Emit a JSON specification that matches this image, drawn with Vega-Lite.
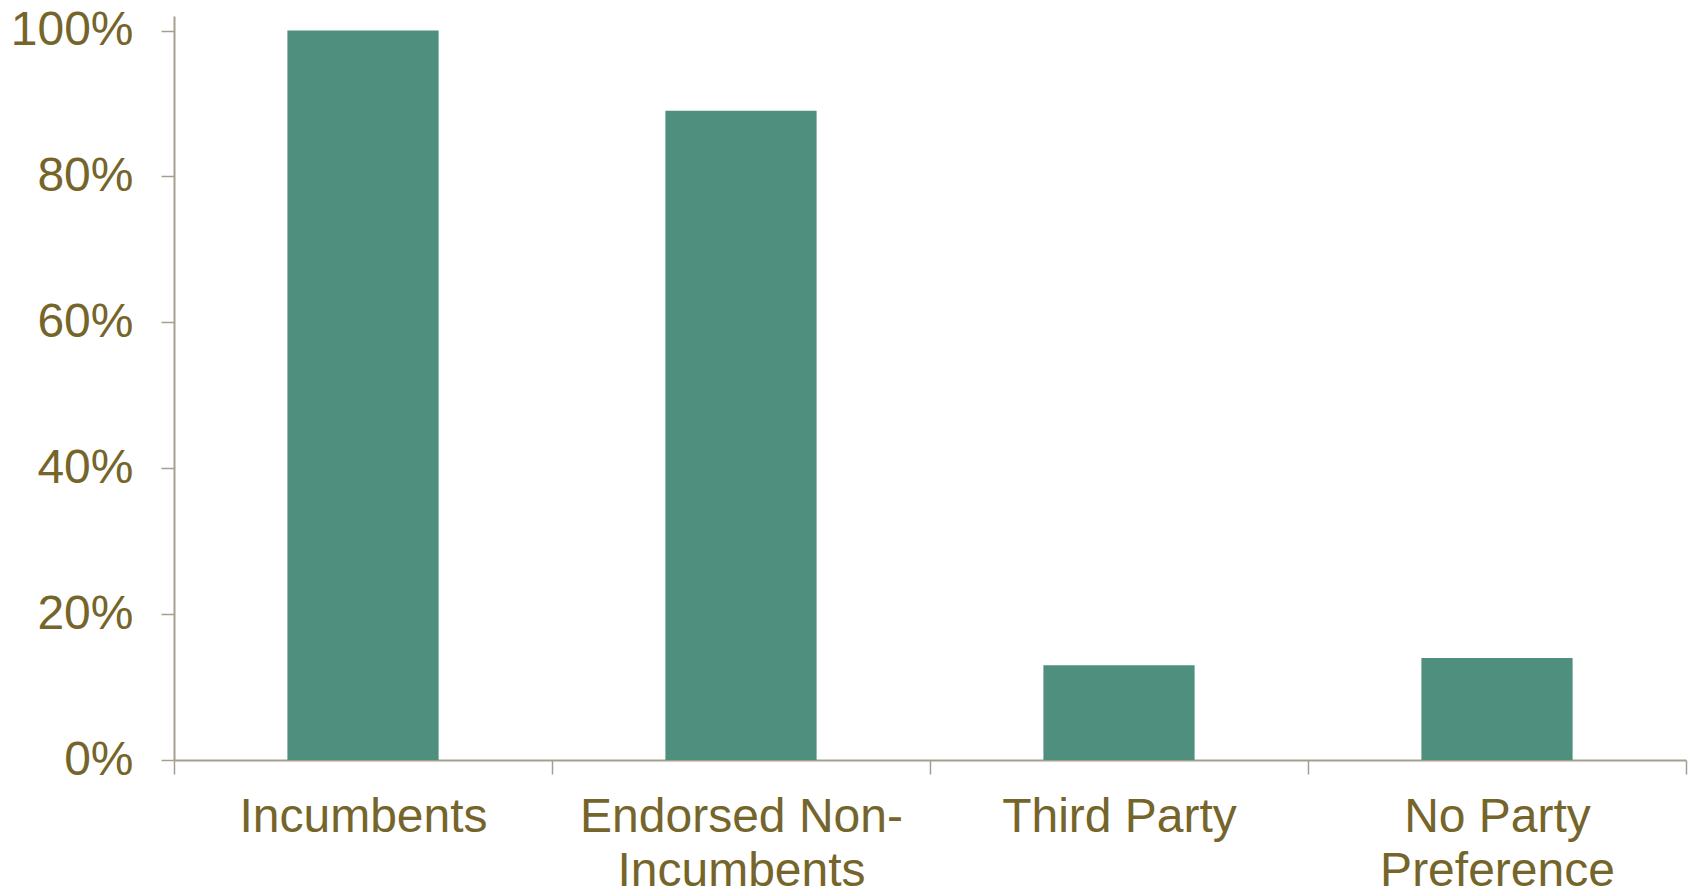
{
  "$schema": "https://vega.github.io/schema/vega-lite/v6.json",
  "autosize": "none",
  "padding": {"left": 174, "top": 16, "right": 2, "bottom": 131},
  "width": 1512,
  "height": 744,
  "background": "white",
  "config": {"view": {"stroke": null}},
  "data": {
    "values": [
      {"category": "Incumbents", "share": 1.0},
      {"category": "Endorsed Non-Incumbents", "share": 0.89},
      {"category": "Third Party", "share": 0.13},
      {"category": "No Party Preference", "share": 0.14}
    ]
  },
  "mark": {"type": "bar", "color": "#4F8F7D", "width": {"band": 0.4}},
  "encoding": {
    "x": {
      "field": "category",
      "type": "nominal",
      "sort": null,
      "scale": {"paddingInner": 0, "paddingOuter": 0},
      "axis": {
        "title": null,
        "labelAngle": 0,
        "tickBand": "extent",
        "labelFont": "Liberation Sans",
        "labelFontSize": 48,
        "labelColor": "#76652B",
        "labelPadding": 19,
        "labelLineHeight": 54,
        "labelLimit": 0,
        "tickSize": 14,
        "tickColor": "#A69F8D",
        "tickWidth": 1.5,
        "domainColor": "#A69F8D",
        "domainWidth": 2,
        "labelExpr": "datum.label == 'Endorsed Non-Incumbents' ? ['Endorsed Non-', 'Incumbents'] : datum.label == 'No Party Preference' ? ['No Party', 'Preference'] : datum.label"
      }
    },
    "y": {
      "field": "share",
      "type": "quantitative",
      "scale": {"domain": [0, 1.02], "nice": false},
      "axis": {
        "title": null,
        "grid": false,
        "values": [0, 0.2, 0.4, 0.6, 0.8, 1.0],
        "format": ".0%",
        "labelFont": "Liberation Sans",
        "labelFontSize": 48,
        "labelColor": "#76652B",
        "labelPadding": 28,
        "tickSize": 13,
        "tickColor": "#A69F8D",
        "tickWidth": 1.5,
        "domainColor": "#A69F8D",
        "domainWidth": 2
      }
    }
  }
}
